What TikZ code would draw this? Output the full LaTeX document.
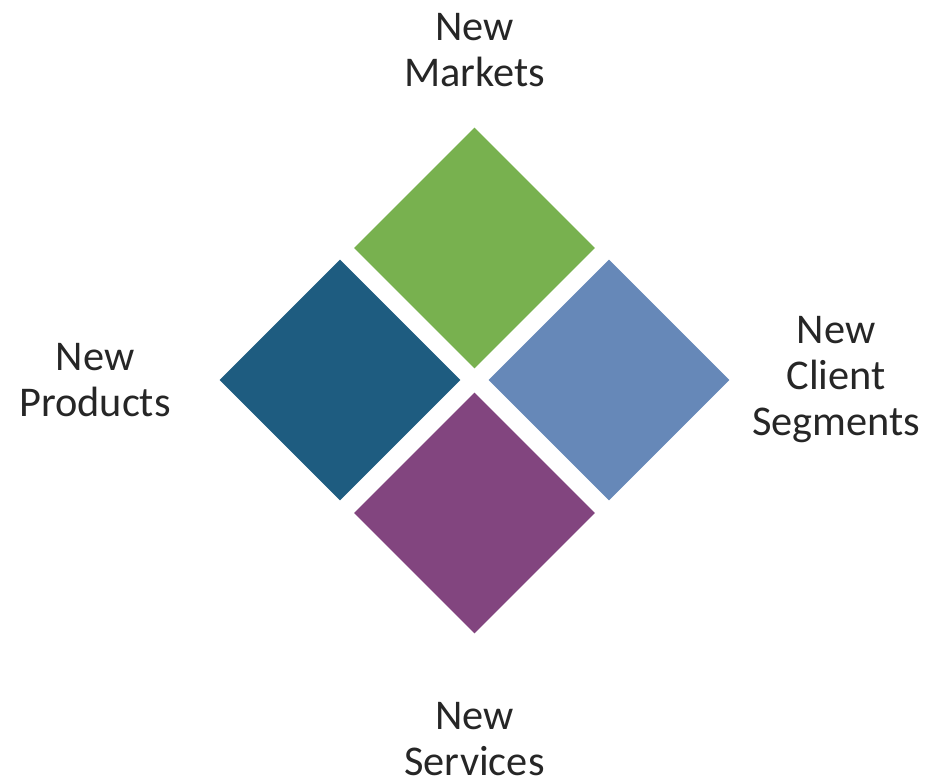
\documentclass[tikz,border=0pt]{standalone}
\usepackage{fontspec}
\setmainfont{Carlito}
\usetikzlibrary{shapes.geometric}

\definecolor{mktgreen}{HTML}{78B14F}
\definecolor{prodblue}{HTML}{1E5C80}
\definecolor{clientblue}{HTML}{6688B8}
\definecolor{servpurple}{HTML}{82457F}
\definecolor{labelgray}{HTML}{262626}

\tikzset{
  tile/.style={diamond, aspect=1, inner sep=0pt,
               minimum width=4.82cm, minimum height=4.82cm},
  lbl/.style={align=center, text=labelgray,
              font=\fontsize{24.1pt}{26.2pt}\selectfont},
}

\begin{document}
\begin{tikzpicture}

  \useasboundingbox (-9.49,-8.0) rectangle (9.05,7.6);

  %% the four tiles
  \node[tile, fill=mktgreen]   (markets)  at (0,2.64)  {};
  \node[tile, fill=prodblue]   (products) at (-2.69,0) {};
  \node[tile, fill=clientblue] (clients)  at (2.69,0)  {};
  \node[tile, fill=servpurple] (services) at (0,-2.66) {};

  %% labels round the tiles
  \node[lbl] (mktlbl)  at (0,6.59)     {New\\Markets};
  \node[lbl] (prodlbl) at (-7.59,0)    {New\\Products};
  \node[lbl] (clilbl)  at (7.23,0)     {New\\Client\\Segments};
  \node[lbl] (servlbl) at (0,-7.18)    {New\\Services};

\end{tikzpicture}
\end{document}
